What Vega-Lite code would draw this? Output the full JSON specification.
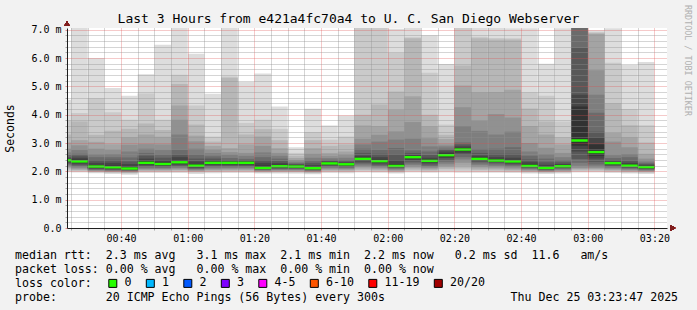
{
  "$schema": "https://vega.github.io/schema/vega-lite/v6.json",
  "width": 600,
  "height": 200,
  "autosize": {"type": "none"},
  "padding": {"left": 67, "top": 28, "right": 30, "bottom": 82},
  "background": "#f2f2f2",
  "config": {
    "font": "DejaVu Sans Mono",
    "view": {"stroke": null, "fill": "#ffffff"}
  },
  "title": {
    "text": "Last 3 Hours from e421a4fc70a4 to U. C. San Diego Webserver",
    "font": "DejaVu Sans Mono",
    "fontSize": 13,
    "fontWeight": "normal",
    "color": "#000000",
    "anchor": "middle",
    "frame": "group",
    "dx": -18.5,
    "dy": 23,
    "offset": 2
  },
  "data": {
    "values": [
      {"t0":"2025-12-25T00:20:00Z","t1":"2025-12-25T00:25:00Z","loss":"0","med":2.39,"p1":1.97,"p2":2.02,"p3":2.07,"p4":2.12,"p5":2.16,"p6":2.2,"p7":2.24,"p8":2.28,"p9":2.32,"p10":2.36,"p11":2.42,"p12":2.45,"p13":2.5,"p14":2.58,"p15":2.67,"p16":2.8,"p17":3.02,"p18":3.3,"p19":3.79,"p20":4.53},
      {"t0":"2025-12-25T00:25:00Z","t1":"2025-12-25T00:30:00Z","loss":"0","med":2.35,"p1":1.96,"p2":2.0,"p3":2.03,"p4":2.06,"p5":2.1,"p6":2.14,"p7":2.18,"p8":2.22,"p9":2.27,"p10":2.31,"p11":2.41,"p12":2.48,"p13":2.55,"p14":2.62,"p15":2.75,"p16":2.92,"p17":3.1,"p18":3.76,"p19":4.06,"p20":7.1},
      {"t0":"2025-12-25T00:30:00Z","t1":"2025-12-25T00:35:00Z","loss":"0","med":2.17,"p1":1.93,"p2":1.96,"p3":1.98,"p4":2.0,"p5":2.02,"p6":2.04,"p7":2.06,"p8":2.08,"p9":2.11,"p10":2.14,"p11":2.22,"p12":2.3,"p13":2.4,"p14":2.5,"p15":2.6,"p16":2.8,"p17":3.04,"p18":3.29,"p19":4.58,"p20":6.0},
      {"t0":"2025-12-25T00:35:00Z","t1":"2025-12-25T00:40:00Z","loss":"0","med":2.14,"p1":1.91,"p2":1.94,"p3":1.96,"p4":1.98,"p5":2.0,"p6":2.02,"p7":2.04,"p8":2.06,"p9":2.08,"p10":2.11,"p11":2.2,"p12":2.3,"p13":2.41,"p14":2.5,"p15":2.61,"p16":2.75,"p17":2.96,"p18":3.43,"p19":4.09,"p20":4.94},
      {"t0":"2025-12-25T00:40:00Z","t1":"2025-12-25T00:45:00Z","loss":"0","med":2.1,"p1":1.88,"p2":1.92,"p3":1.94,"p4":1.96,"p5":1.98,"p6":2.0,"p7":2.02,"p8":2.04,"p9":2.06,"p10":2.08,"p11":2.16,"p12":2.26,"p13":2.35,"p14":2.49,"p15":2.7,"p16":2.94,"p17":3.2,"p18":3.5,"p19":3.82,"p20":4.67},
      {"t0":"2025-12-25T00:45:00Z","t1":"2025-12-25T00:50:00Z","loss":"0","med":2.3,"p1":1.94,"p2":1.98,"p3":2.01,"p4":2.04,"p5":2.07,"p6":2.1,"p7":2.14,"p8":2.18,"p9":2.22,"p10":2.27,"p11":2.36,"p12":2.45,"p13":2.55,"p14":2.65,"p15":2.8,"p16":2.96,"p17":3.3,"p18":3.69,"p19":4.75,"p20":5.43},
      {"t0":"2025-12-25T00:50:00Z","t1":"2025-12-25T00:55:00Z","loss":"0","med":2.26,"p1":1.94,"p2":1.98,"p3":2.01,"p4":2.04,"p5":2.07,"p6":2.1,"p7":2.13,"p8":2.17,"p9":2.2,"p10":2.23,"p11":2.31,"p12":2.4,"p13":2.48,"p14":2.59,"p15":2.75,"p16":2.95,"p17":3.22,"p18":3.46,"p19":3.82,"p20":6.47},
      {"t0":"2025-12-25T00:55:00Z","t1":"2025-12-25T01:00:00Z","loss":"0","med":2.32,"p1":1.94,"p2":1.98,"p3":2.02,"p4":2.05,"p5":2.09,"p6":2.12,"p7":2.16,"p8":2.2,"p9":2.24,"p10":2.28,"p11":2.38,"p12":2.5,"p13":2.6,"p14":2.76,"p15":3.3,"p16":3.82,"p17":4.32,"p18":5.08,"p19":5.41,"p20":7.1},
      {"t0":"2025-12-25T01:00:00Z","t1":"2025-12-25T01:05:00Z","loss":"0","med":2.2,"p1":1.91,"p2":1.95,"p3":1.98,"p4":2.01,"p5":2.03,"p6":2.06,"p7":2.08,"p8":2.11,"p9":2.14,"p10":2.17,"p11":2.26,"p12":2.35,"p13":2.45,"p14":2.59,"p15":2.8,"p16":3.06,"p17":3.26,"p18":3.65,"p19":4.32,"p20":6.15},
      {"t0":"2025-12-25T01:05:00Z","t1":"2025-12-25T01:10:00Z","loss":"0","med":2.3,"p1":1.93,"p2":1.97,"p3":2.0,"p4":2.04,"p5":2.07,"p6":2.11,"p7":2.15,"p8":2.19,"p9":2.23,"p10":2.27,"p11":2.34,"p12":2.39,"p13":2.45,"p14":2.53,"p15":2.64,"p16":2.76,"p17":2.9,"p18":3.05,"p19":3.23,"p20":4.74},
      {"t0":"2025-12-25T01:10:00Z","t1":"2025-12-25T01:15:00Z","loss":"0","med":2.3,"p1":1.94,"p2":1.98,"p3":2.01,"p4":2.05,"p5":2.08,"p6":2.12,"p7":2.15,"p8":2.19,"p9":2.23,"p10":2.27,"p11":2.33,"p12":2.36,"p13":2.4,"p14":2.47,"p15":2.58,"p16":2.68,"p17":2.82,"p18":5.3,"p19":5.35,"p20":7.1},
      {"t0":"2025-12-25T01:15:00Z","t1":"2025-12-25T01:20:00Z","loss":"0","med":2.3,"p1":1.94,"p2":1.98,"p3":2.01,"p4":2.05,"p5":2.08,"p6":2.12,"p7":2.15,"p8":2.19,"p9":2.23,"p10":2.27,"p11":2.33,"p12":2.36,"p13":2.4,"p14":2.44,"p15":2.55,"p16":2.65,"p17":2.95,"p18":3.3,"p19":3.71,"p20":5.15},
      {"t0":"2025-12-25T01:20:00Z","t1":"2025-12-25T01:25:00Z","loss":"0","med":2.12,"p1":1.92,"p2":1.95,"p3":1.97,"p4":1.99,"p5":2.01,"p6":2.03,"p7":2.05,"p8":2.07,"p9":2.09,"p10":2.1,"p11":2.2,"p12":2.3,"p13":2.4,"p14":2.5,"p15":2.67,"p16":2.9,"p17":3.23,"p18":3.49,"p19":3.82,"p20":5.45},
      {"t0":"2025-12-25T01:25:00Z","t1":"2025-12-25T01:30:00Z","loss":"0","med":2.18,"p1":1.92,"p2":1.95,"p3":1.98,"p4":2.0,"p5":2.03,"p6":2.05,"p7":2.08,"p8":2.1,"p9":2.13,"p10":2.15,"p11":2.23,"p12":2.29,"p13":2.36,"p14":2.45,"p15":2.55,"p16":2.65,"p17":2.82,"p18":3.1,"p19":3.5,"p20":4.29},
      {"t0":"2025-12-25T01:30:00Z","t1":"2025-12-25T01:35:00Z","loss":"0","med":2.17,"p1":1.92,"p2":1.95,"p3":1.98,"p4":2.0,"p5":2.03,"p6":2.05,"p7":2.08,"p8":2.1,"p9":2.12,"p10":2.15,"p11":2.2,"p12":2.23,"p13":2.26,"p14":2.29,"p15":2.34,"p16":2.4,"p17":2.47,"p18":2.55,"p19":2.65,"p20":2.85},
      {"t0":"2025-12-25T01:35:00Z","t1":"2025-12-25T01:40:00Z","loss":"0","med":2.11,"p1":1.9,"p2":1.93,"p3":1.95,"p4":1.97,"p5":1.99,"p6":2.01,"p7":2.03,"p8":2.05,"p9":2.07,"p10":2.09,"p11":2.16,"p12":2.22,"p13":2.3,"p14":2.38,"p15":2.48,"p16":2.62,"p17":2.82,"p18":3.1,"p19":3.39,"p20":4.21},
      {"t0":"2025-12-25T01:40:00Z","t1":"2025-12-25T01:45:00Z","loss":"0","med":2.28,"p1":1.94,"p2":1.98,"p3":2.01,"p4":2.05,"p5":2.08,"p6":2.12,"p7":2.15,"p8":2.19,"p9":2.22,"p10":2.25,"p11":2.31,"p12":2.34,"p13":2.37,"p14":2.41,"p15":2.47,"p16":2.55,"p17":2.65,"p18":2.9,"p19":3.12,"p20":3.62},
      {"t0":"2025-12-25T01:45:00Z","t1":"2025-12-25T01:50:00Z","loss":"0","med":2.25,"p1":1.93,"p2":1.97,"p3":2.0,"p4":2.04,"p5":2.07,"p6":2.1,"p7":2.13,"p8":2.17,"p9":2.2,"p10":2.23,"p11":2.28,"p12":2.31,"p13":2.35,"p14":2.4,"p15":2.48,"p16":2.58,"p17":2.7,"p18":2.95,"p19":3.23,"p20":3.97},
      {"t0":"2025-12-25T01:50:00Z","t1":"2025-12-25T01:55:00Z","loss":"0","med":2.44,"p1":1.96,"p2":2.0,"p3":2.05,"p4":2.1,"p5":2.15,"p6":2.2,"p7":2.25,"p8":2.3,"p9":2.35,"p10":2.4,"p11":2.48,"p12":2.55,"p13":2.65,"p14":2.8,"p15":2.95,"p16":3.15,"p17":3.62,"p18":4.0,"p19":7.2,"p20":7.5},
      {"t0":"2025-12-25T01:55:00Z","t1":"2025-12-25T02:00:00Z","loss":"0","med":2.36,"p1":1.95,"p2":1.99,"p3":2.03,"p4":2.07,"p5":2.11,"p6":2.15,"p7":2.19,"p8":2.23,"p9":2.28,"p10":2.32,"p11":2.41,"p12":2.5,"p13":2.62,"p14":2.76,"p15":3.05,"p16":3.29,"p17":3.6,"p18":4.36,"p19":7.2,"p20":7.5},
      {"t0":"2025-12-25T02:00:00Z","t1":"2025-12-25T02:05:00Z","loss":"0","med":2.19,"p1":1.92,"p2":1.95,"p3":1.98,"p4":2.01,"p5":2.04,"p6":2.07,"p7":2.1,"p8":2.13,"p9":2.15,"p10":2.17,"p11":2.25,"p12":2.4,"p13":2.6,"p14":2.82,"p15":3.12,"p16":3.41,"p17":4.17,"p18":4.82,"p19":6.18,"p20":7.03},
      {"t0":"2025-12-25T02:05:00Z","t1":"2025-12-25T02:10:00Z","loss":"0","med":2.5,"p1":1.96,"p2":2.01,"p3":2.06,"p4":2.11,"p5":2.16,"p6":2.22,"p7":2.28,"p8":2.34,"p9":2.4,"p10":2.46,"p11":2.54,"p12":2.58,"p13":2.65,"p14":2.74,"p15":3.15,"p16":3.74,"p17":4.65,"p18":6.7,"p19":6.73,"p20":7.1},
      {"t0":"2025-12-25T02:10:00Z","t1":"2025-12-25T02:15:00Z","loss":"0","med":2.37,"p1":1.95,"p2":1.99,"p3":2.03,"p4":2.07,"p5":2.11,"p6":2.15,"p7":2.19,"p8":2.24,"p9":2.29,"p10":2.33,"p11":2.42,"p12":2.48,"p13":2.58,"p14":2.7,"p15":2.88,"p16":3.17,"p17":3.59,"p18":4.0,"p19":5.48,"p20":6.8},
      {"t0":"2025-12-25T02:15:00Z","t1":"2025-12-25T02:20:00Z","loss":"0","med":2.57,"p1":1.96,"p2":2.02,"p3":2.08,"p4":2.14,"p5":2.2,"p6":2.27,"p7":2.34,"p8":2.41,"p9":2.47,"p10":2.52,"p11":2.63,"p12":2.7,"p13":2.76,"p14":2.8,"p15":2.88,"p16":2.95,"p17":3.14,"p18":3.29,"p19":3.65,"p20":5.79},
      {"t0":"2025-12-25T02:20:00Z","t1":"2025-12-25T02:25:00Z","loss":"0","med":2.77,"p1":1.95,"p2":2.02,"p3":2.1,"p4":2.2,"p5":2.3,"p6":2.42,"p7":2.5,"p8":2.58,"p9":2.65,"p10":2.71,"p11":2.82,"p12":2.88,"p13":2.95,"p14":3.02,"p15":3.6,"p16":4.26,"p17":5.03,"p18":5.74,"p19":7.2,"p20":7.5},
      {"t0":"2025-12-25T02:25:00Z","t1":"2025-12-25T02:30:00Z","loss":"0","med":2.44,"p1":1.95,"p2":2.0,"p3":2.05,"p4":2.1,"p5":2.16,"p6":2.22,"p7":2.28,"p8":2.33,"p9":2.37,"p10":2.41,"p11":2.49,"p12":2.55,"p13":2.65,"p14":2.79,"p15":3.43,"p16":3.79,"p17":4.79,"p18":6.7,"p19":6.75,"p20":7.1},
      {"t0":"2025-12-25T02:30:00Z","t1":"2025-12-25T02:35:00Z","loss":"0","med":2.38,"p1":1.95,"p2":1.99,"p3":2.04,"p4":2.09,"p5":2.14,"p6":2.19,"p7":2.24,"p8":2.29,"p9":2.33,"p10":2.35,"p11":2.43,"p12":2.5,"p13":2.62,"p14":2.8,"p15":3.3,"p16":4.02,"p17":4.8,"p18":6.65,"p19":6.71,"p20":7.1},
      {"t0":"2025-12-25T02:35:00Z","t1":"2025-12-25T02:40:00Z","loss":"0","med":2.35,"p1":1.94,"p2":1.98,"p3":2.02,"p4":2.06,"p5":2.1,"p6":2.15,"p7":2.2,"p8":2.24,"p9":2.28,"p10":2.32,"p11":2.4,"p12":2.48,"p13":2.62,"p14":2.85,"p15":3.4,"p16":3.9,"p17":4.88,"p18":6.65,"p19":6.7,"p20":7.05},
      {"t0":"2025-12-25T02:40:00Z","t1":"2025-12-25T02:45:00Z","loss":"0","med":2.19,"p1":1.92,"p2":1.95,"p3":1.98,"p4":2.01,"p5":2.04,"p6":2.07,"p7":2.1,"p8":2.13,"p9":2.15,"p10":2.17,"p11":2.24,"p12":2.32,"p13":2.42,"p14":2.55,"p15":2.7,"p16":3.0,"p17":3.6,"p18":4.22,"p19":4.78,"p20":7.05},
      {"t0":"2025-12-25T02:45:00Z","t1":"2025-12-25T02:50:00Z","loss":"0","med":2.12,"p1":1.91,"p2":1.94,"p3":1.96,"p4":1.98,"p5":2.0,"p6":2.02,"p7":2.04,"p8":2.06,"p9":2.08,"p10":2.1,"p11":2.16,"p12":2.23,"p13":2.32,"p14":2.45,"p15":2.6,"p16":2.83,"p17":3.3,"p18":3.76,"p19":4.67,"p20":5.8},
      {"t0":"2025-12-25T02:50:00Z","t1":"2025-12-25T02:55:00Z","loss":"0","med":2.18,"p1":1.92,"p2":1.95,"p3":1.98,"p4":2.0,"p5":2.03,"p6":2.06,"p7":2.09,"p8":2.12,"p9":2.14,"p10":2.16,"p11":2.22,"p12":2.26,"p13":2.32,"p14":2.4,"p15":2.5,"p16":2.65,"p17":2.95,"p18":3.2,"p19":3.76,"p20":7.05},
      {"t0":"2025-12-25T02:55:00Z","t1":"2025-12-25T03:00:00Z","loss":"0","med":3.09,"p1":1.96,"p2":2.0,"p3":2.04,"p4":2.08,"p5":2.12,"p6":2.2,"p7":2.3,"p8":2.44,"p9":2.7,"p10":2.9,"p11":4.29,"p12":4.7,"p13":6.35,"p14":7.3,"p15":7.5,"p16":7.7,"p17":7.9,"p18":8.1,"p19":8.3,"p20":8.5},
      {"t0":"2025-12-25T03:00:00Z","t1":"2025-12-25T03:05:00Z","loss":"0","med":2.68,"p1":1.96,"p2":2.0,"p3":2.04,"p4":2.08,"p5":2.12,"p6":2.17,"p7":2.24,"p8":2.33,"p9":2.45,"p10":2.55,"p11":2.95,"p12":3.2,"p13":3.4,"p14":4.07,"p15":4.7,"p16":5.57,"p17":6.85,"p18":6.88,"p19":6.92,"p20":6.98},
      {"t0":"2025-12-25T03:05:00Z","t1":"2025-12-25T03:10:00Z","loss":"0","med":2.29,"p1":1.94,"p2":1.98,"p3":2.01,"p4":2.05,"p5":2.08,"p6":2.12,"p7":2.15,"p8":2.19,"p9":2.23,"p10":2.26,"p11":2.32,"p12":2.35,"p13":2.4,"p14":2.47,"p15":2.57,"p16":3.05,"p17":3.36,"p18":4.4,"p19":5.83,"p20":7.05},
      {"t0":"2025-12-25T03:10:00Z","t1":"2025-12-25T03:15:00Z","loss":"0","med":2.2,"p1":1.92,"p2":1.95,"p3":1.98,"p4":2.01,"p5":2.04,"p6":2.07,"p7":2.1,"p8":2.13,"p9":2.15,"p10":2.18,"p11":2.24,"p12":2.3,"p13":2.38,"p14":2.5,"p15":2.61,"p16":2.85,"p17":3.2,"p18":3.63,"p19":4.2,"p20":5.75},
      {"t0":"2025-12-25T03:15:00Z","t1":"2025-12-25T03:20:00Z","loss":"0","med":2.15,"p1":1.91,"p2":1.94,"p3":1.97,"p4":1.99,"p5":2.01,"p6":2.03,"p7":2.06,"p8":2.08,"p9":2.1,"p10":2.12,"p11":2.19,"p12":2.22,"p13":2.26,"p14":2.3,"p15":2.35,"p16":2.45,"p17":2.62,"p18":3.02,"p19":3.63,"p20":5.86}
    ]
  },
  "encoding": {
    "x": {
      "field": "t0",
      "type": "temporal",
      "scale": {
        "type": "utc",
        "domain": [
          {"year": 2025, "month": 12, "date": 25, "hours": 0, "minutes": 23, "seconds": 47, "utc": true},
          {"year": 2025, "month": 12, "date": 25, "hours": 3, "minutes": 23, "seconds": 47, "utc": true}
        ]
      },
      "axis": {
        "tickCount": 36,
        "labelExpr": "utcminutes(datum.value) % 20 === 0 ? utcFormat(datum.value, '%H:%M') : ''",
        "labelFont": "DejaVu Sans Mono",
        "labelFontSize": 10,
        "labelColor": "#000000",
        "labelPadding": 3,
        "labelFlush": false,
        "labelOverlap": false,
        "tickSize": 2,
        "tickColor": {"condition": {"test": "utcminutes(datum.value) % 20 === 0", "value": "rgba(222,79,79,0.6)"}, "value": "rgba(143,143,143,0.75)"},
        "grid": true,
        "gridColor": {"condition": {"test": "utcminutes(datum.value) % 20 === 0", "value": "rgba(222,79,79,0.6)"}, "value": "rgba(143,143,143,0.75)"},
        "gridDash": [1, 1],
        "gridWidth": 1,
        "domainColor": "#1f1f1f",
        "zindex": 1,
        "title": [
          "median\u00a0rtt:\u00a0\u00a02.3\u00a0ms\u00a0avg\u00a0\u00a0\u00a03.1\u00a0ms\u00a0max\u00a0\u00a02.1\u00a0ms\u00a0min\u00a0\u00a02.2\u00a0ms\u00a0now\u00a0\u00a0\u00a00.2\u00a0ms\u00a0sd\u00a0\u00a011.6\u00a0\u00a0\u00a0am/s",
          "packet\u00a0loss:\u00a00.00\u00a0%\u00a0avg\u00a0\u00a0\u00a00.00\u00a0%\u00a0max\u00a0\u00a00.00\u00a0%\u00a0min\u00a0\u00a00.00\u00a0%\u00a0now",
          "loss\u00a0color:",
          "probe:\u00a0\u00a0\u00a0\u00a0\u00a0\u00a0\u00a020\u00a0ICMP\u00a0Echo\u00a0Pings\u00a0(56\u00a0Bytes)\u00a0every\u00a0300s\u00a0\u00a0\u00a0\u00a0\u00a0\u00a0\u00a0\u00a0\u00a0\u00a0\u00a0\u00a0\u00a0\u00a0\u00a0\u00a0\u00a0\u00a0Thu\u00a0Dec\u00a025\u00a003:23:47\u00a02025"
        ],
        "titleFont": "DejaVu Sans Mono",
        "titleFontSize": 11.6,
        "titleFontWeight": "normal",
        "titleColor": "#000000",
        "titleAnchor": "start",
        "titleAlign": "left",
        "titleBaseline": "alphabetic",
        "titleX": -52.5,
        "titleY": 30.5,
        "titleLineHeight": 14
      }
    },
    "x2": {"field": "t1"}
  },
  "resolve": {"axis": {"y": "independent"}},
  "layer": [
    {
      "mark": {"type": "rect", "clip": true, "color": "#dddddd"},
      "encoding": {
        "y": {
          "field": "p1", "type": "quantitative",
          "scale": {"domain": [0, 7.06], "nice": false, "zero": true},
          "axis": {
            "values": [0,0.2,0.4,0.6,0.8,1,1.2,1.4,1.6,1.8,2,2.2,2.4,2.6,2.8,3,3.2,3.4,3.6,3.8,4,4.2,4.4,4.6,4.8,5,5.2,5.4,5.6,5.8,6,6.2,6.4,6.6,6.8,7],
            "labelExpr": "datum.value % 1 === 0 ? (datum.value === 0 ? '0.0\u00a0\u00a0' : format(datum.value, '.1f') + '\u00a0m') : ''",
            "labelFont": "DejaVu Sans Mono",
            "labelFontSize": 10,
            "labelColor": "#000000",
            "labelPadding": 4,
            "labelOverlap": false,
            "labelFlush": false,
            "labelBaseline": "middle",
            "tickSize": 2,
            "tickColor": {"condition": {"test": "datum.value % 1 === 0", "value": "rgba(222,79,79,0.6)"}, "value": "rgba(143,143,143,0.75)"},
            "grid": true,
            "gridColor": {"condition": {"test": "datum.value % 1 === 0", "value": "rgba(222,79,79,0.6)"}, "value": "rgba(143,143,143,0.75)"},
            "gridDash": [1, 1],
            "gridWidth": 1,
            "domainColor": "#1f1f1f",
            "zindex": 1,
            "title": "Seconds",
            "titleFont": "DejaVu Sans Mono",
            "titleFontSize": 11.5,
            "titleFontWeight": "normal",
            "titleColor": "#000000",
            "titleAngle": 270,
            "titleAlign": "center",
            "titleBaseline": "middle",
            "titleX": -56.5,
            "titleY": 100
          }
        },
        "y2": {"field": "p20"}
      }
    },
    {"mark": {"type": "rect", "clip": true, "color": "#cacaca"}, "encoding": {"y": {"field": "p2", "type": "quantitative", "scale": {"domain": [0, 7.06], "nice": false}, "axis": null}, "y2": {"field": "p19"}}},
    {"mark": {"type": "rect", "clip": true, "color": "#b7b7b7"}, "encoding": {"y": {"field": "p3", "type": "quantitative", "scale": {"domain": [0, 7.06], "nice": false}, "axis": null}, "y2": {"field": "p18"}}},
    {"mark": {"type": "rect", "clip": true, "color": "#a4a4a4"}, "encoding": {"y": {"field": "p4", "type": "quantitative", "scale": {"domain": [0, 7.06], "nice": false}, "axis": null}, "y2": {"field": "p17"}}},
    {"mark": {"type": "rect", "clip": true, "color": "#919191"}, "encoding": {"y": {"field": "p5", "type": "quantitative", "scale": {"domain": [0, 7.06], "nice": false}, "axis": null}, "y2": {"field": "p16"}}},
    {"mark": {"type": "rect", "clip": true, "color": "#7e7e7e"}, "encoding": {"y": {"field": "p6", "type": "quantitative", "scale": {"domain": [0, 7.06], "nice": false}, "axis": null}, "y2": {"field": "p15"}}},
    {"mark": {"type": "rect", "clip": true, "color": "#6b6b6b"}, "encoding": {"y": {"field": "p7", "type": "quantitative", "scale": {"domain": [0, 7.06], "nice": false}, "axis": null}, "y2": {"field": "p14"}}},
    {"mark": {"type": "rect", "clip": true, "color": "#585858"}, "encoding": {"y": {"field": "p8", "type": "quantitative", "scale": {"domain": [0, 7.06], "nice": false}, "axis": null}, "y2": {"field": "p13"}}},
    {"mark": {"type": "rect", "clip": true, "color": "#454545"}, "encoding": {"y": {"field": "p9", "type": "quantitative", "scale": {"domain": [0, 7.06], "nice": false}, "axis": null}, "y2": {"field": "p12"}}},
    {"mark": {"type": "rect", "clip": true, "color": "#323232"}, "encoding": {"y": {"field": "p10", "type": "quantitative", "scale": {"domain": [0, 7.06], "nice": false}, "axis": null}, "y2": {"field": "p11"}}},
    {
      "mark": {"type": "rect", "clip": true, "yOffset": 1.2, "y2Offset": -1.2},
      "encoding": {
        "y": {
          "field": "med", "type": "quantitative",
          "scale": {"domain": [0, 7.06], "nice": false},
          "axis": {
            "orient": "right",
            "labels": false,
            "ticks": false,
            "domain": false,
            "grid": false,
            "title": "RRDTOOL / TOBI OETIKER",
            "titleFont": "DejaVu Sans Mono",
            "titleFontSize": 8.4,
            "titleFontWeight": "normal",
            "titleColor": "#b0b0b0",
            "titleAngle": 90,
            "titleAlign": "center",
            "titleBaseline": "middle",
            "titleX": 20,
            "titleY": 32
          }
        },
        "y2": {"field": "med"},
        "color": {
          "field": "loss",
          "type": "nominal",
          "scale": {
            "domain": ["0", "1", "2", "3", "4-5", "6-10", "11-19", "20/20"],
            "range": ["#26ff00", "#00b8ff", "#0059ff", "#7e00ff", "#ff00ff", "#ff5500", "#ff0000", "#a10000"]
          },
          "legend": {
            "orient": "none",
            "legendX": 40,
            "legendY": 249.5,
            "direction": "horizontal",
            "title": null,
            "padding": 0,
            "symbolType": "square",
            "symbolSize": 64,
            "symbolStrokeColor": "#000000",
            "symbolStrokeWidth": 1,
            "symbolOpacity": 1,
            "labelFont": "DejaVu Sans Mono",
            "labelFontSize": 11.6,
            "labelColor": "#000000",
            "labelOffset": 6,
            "columnPadding": 11.5
          }
        }
      }
    },
    {
      "mark": {"type": "point", "shape": "triangle-up", "filled": true, "color": "#801f1f", "size": 28, "opacity": 1},
      "encoding": {
        "x": {"datum": {"year": 2025, "month": 12, "date": 25, "hours": 0, "minutes": 23, "seconds": 47, "utc": true}, "type": "temporal"},
        "y": {"datum": 7.22, "type": "quantitative", "axis": null}
      }
    },
    {
      "mark": {"type": "point", "shape": "triangle-right", "filled": true, "color": "#801f1f", "size": 28, "opacity": 1},
      "encoding": {
        "x": {"datum": {"year": 2025, "month": 12, "date": 25, "hours": 3, "minutes": 25, "seconds": 35, "utc": true}, "type": "temporal"},
        "y": {"datum": 0, "type": "quantitative", "axis": null}
      }
    }
  ]
}
